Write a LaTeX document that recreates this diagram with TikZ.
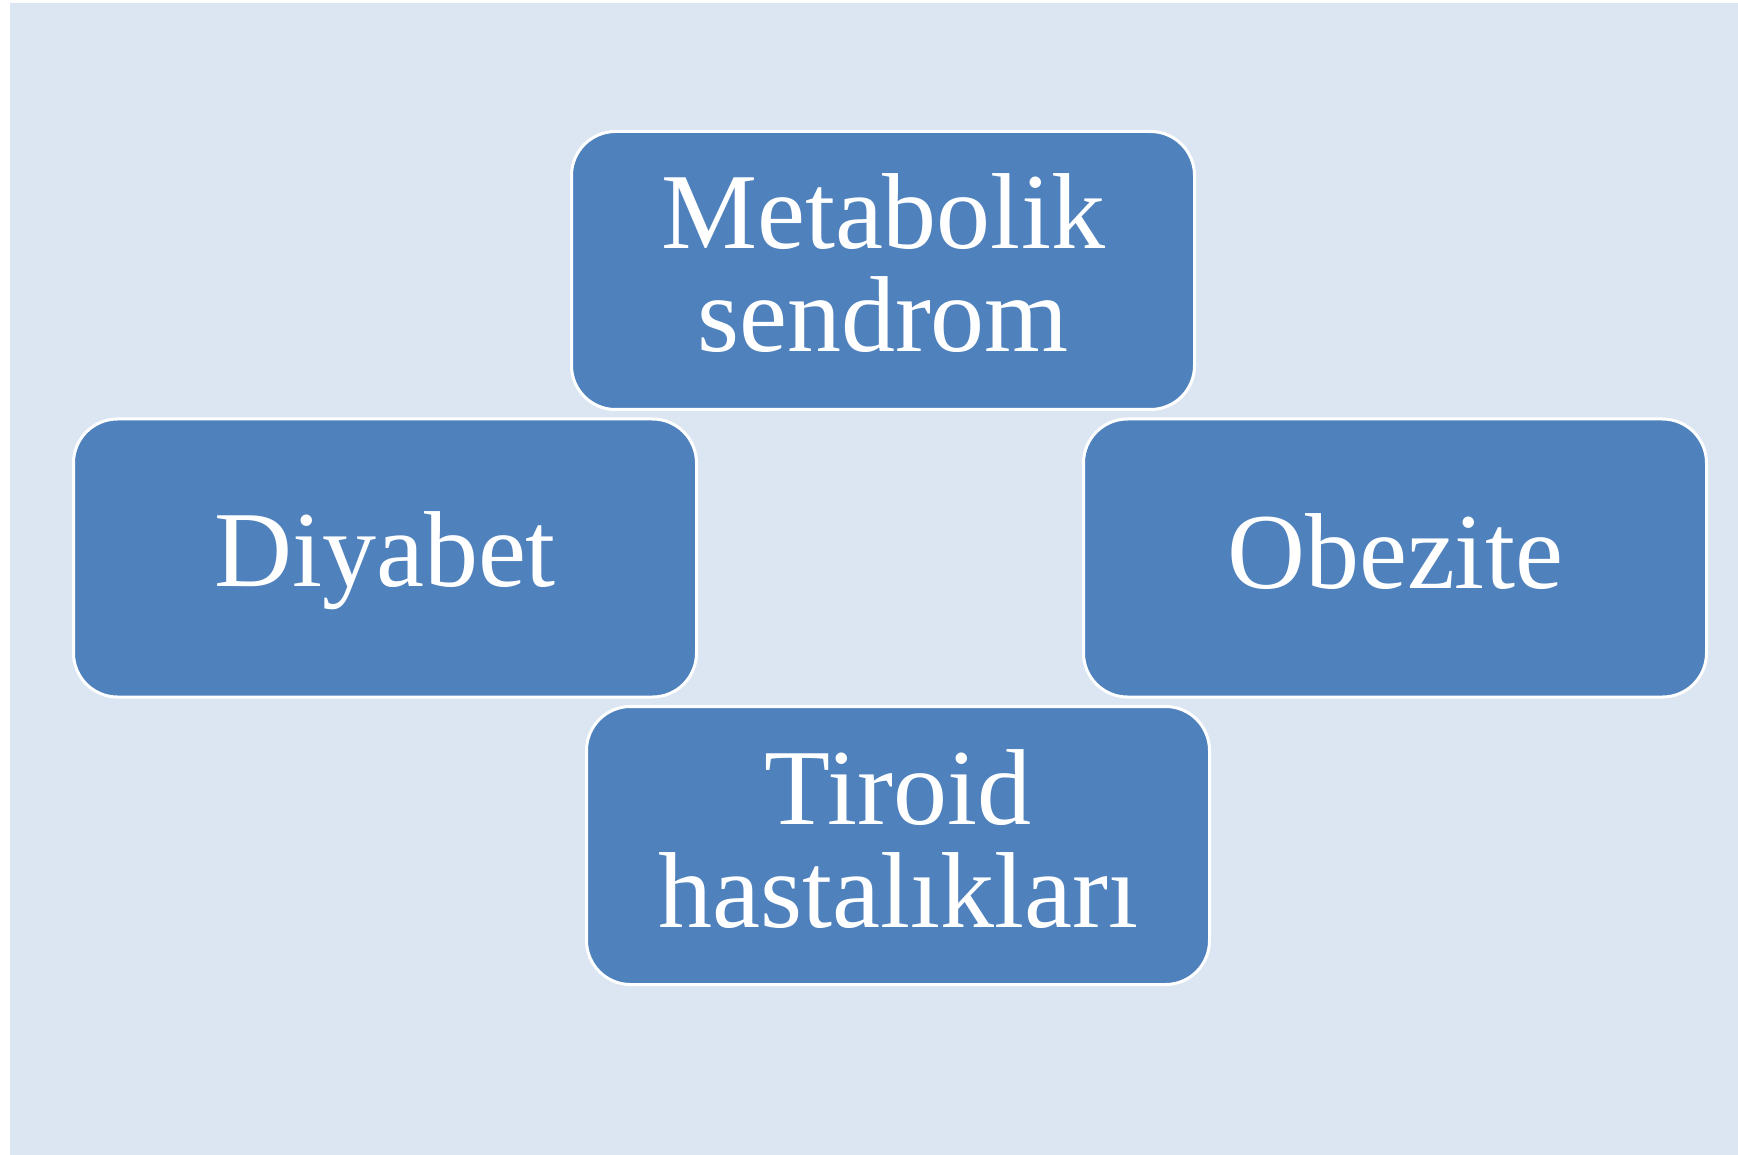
\documentclass[tikz,border=0pt]{standalone}
\usepackage{fontspec}
\setmainfont{Liberation Serif}
\definecolor{bgblue}{HTML}{DCE6F2}
\definecolor{boxblue}{HTML}{4F81BD}
\newcommand\lnstrut{\rule[-20pt]{0pt}{100pt}}
\begin{document}
\begin{tikzpicture}[x=1pt,y=-1pt,
  box/.style={draw=white, line width=3pt, fill=boxblue, rounded corners=44pt,
    minimum width=623pt, minimum height=278pt, inner sep=0pt, align=center,
    text=white, font=\fontsize{108}{103}\selectfont}]
\useasboundingbox (0,0) rectangle (1738,1155);
\fill[bgblue] (10,3) rectangle (1738,1155);
\node[box] (met) at (883,270.5) {\lnstrut Metabolik\\\lnstrut sendrom};
\node[box] (diy) at (385,558) {\lnstrut Diyabet};
\node[box] (obe) at (1395,558) {\lnstrut Obezite};
\node[box] (tir) at (898,845.5) {\lnstrut Tiroid\\\lnstrut hastalıkları};
\end{tikzpicture}
\end{document}
